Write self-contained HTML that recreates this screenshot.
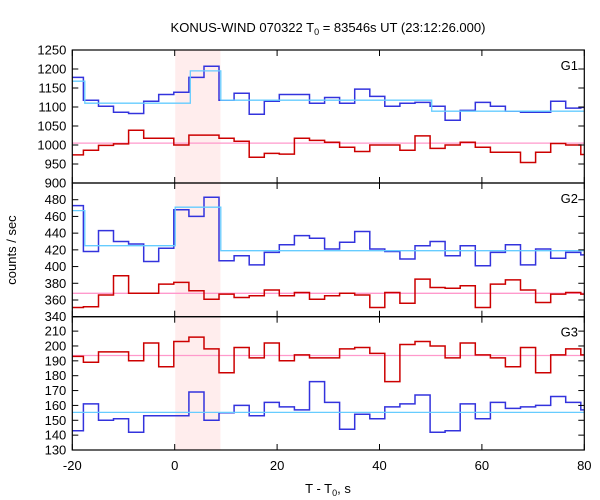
<!DOCTYPE html>
<html><head><meta charset="utf-8"><style>
html,body{margin:0;padding:0;background:#fff}
svg{display:block;font-family:"Liberation Sans",sans-serif}
</style></head><body>
<svg id="c" width="600" height="500" viewBox="0 0 600 500"></svg>
<script>
// bin edges: first bin index -1, width in seconds
const binStart = -20.78; // start of bin -1 (seconds)
const binWidth = 2.944;
const g1Blue = [1178,1118,1102,1086,1083,1115,1133,1139,1178,1207,1118,1136,1081,1115,1133,1133,1110,1125,1110,1147,1128,1102,1110,1112,1102,1065,1091,1112,1102,1089,1086,1086,1115,1097,1099];
const g1Red = [974,986,999,1003,1039,1018,1018,1000,1026,1026,1018,1010,968,978,976,1018,1012,1007,994,983,1000,1000,986,1024,991,1000,1007,994,981,981,954,981,1004,1000,975];
const g2Blue = [473,418,443,430,427,406,422,468,460,483,407,413,402,417,426,437,434,421,429,442,421,418,409,425,430,413,425,401,417,426,402,421,410,417,414];
const g2Red = [351,352,366,389,368,368,379,381,371,361,367,363,365,372,365,369,361,365,368,366,351,369,356,385,375,374,377,351,379,384,372,357,367,369,367];
const g3Blue = [143,161,150,151,142,153,153,153,169,150,155,160,153,162,159,157,176,162,144,154,151,159,161,167,142,143,161,151,162,158,159,160,166,162,157];
const g3Red = [193,189,196,196,190,202,186,203,206,198,182,199,192,202,190,194,192,192,198,199,195,176,201,203,200,192,202,194,192,186,199,182,194,198,194];
// fit model steps: [tStart, tEnd, value]
const g1FitT = [-20,-17.56,3.04,9.0,50.2,80];
const g1FitV = [1168,1110,1195,1118,1089];
const g2FitT = [-20,-17.56,0.1,9.0,80];
const g2FitV = [467,425,471,419];
const g3BgV = 155.3, g1BgV = 1005, g2BgV = 368, g3RedBg = 193.6;
const xTicks = [-20,0,20,40,60,80];
const g1Ticks = [900,950,1000,1050,1100,1150,1200,1250];
const g2Ticks = [340,360,380,400,420,440,460,480];
const g3Ticks = [130,140,150,160,170,180,190,200,210];
const burst = [0.1, 8.93];

const svg = document.getElementById('c');
const NS='http://www.w3.org/2000/svg';
const X0=72.3, X1=584.3;
const xs = t => X0 + (t+20)/100*(X1-X0);
function mk(tag, attrs, parent){const e=document.createElementNS(NS,tag);for(const k in attrs)e.setAttribute(k,attrs[k]);(parent||svg).appendChild(e);return e;}

const panels = [
 {name:'g1', top:50, bot:183, min:900, max:1250, ticks:g1Ticks, blue:g1Blue, red:g1Red, fitT:g1FitT, fitV:g1FitV, redBg:g1BgV},
 {name:'g2', top:183, bot:316.7, min:340, max:500, ticks:g2Ticks, blue:g2Blue, red:g2Red, fitT:g2FitT, fitV:g2FitV, redBg:g2BgV},
 {name:'g3', top:316.7, bot:450, min:130, max:219.7, ticks:g3Ticks, blue:g3Blue, red:g3Red, fitT:[-20,80], fitV:[g3BgV], redBg:g3RedBg}
];

// burst shading
const sh = mk('rect',{x:xs(burst[0]),y:50,width:xs(burst[1])-xs(burst[0]),height:400,fill:'#ffeded'});



const clip = mk('clipPath',{id:'pc'}); mk('rect',{x:X0,y:50,width:X1-X0,height:400},clip);

function stepPath(vals, ys){
  let d='';
  for(let i=0;i<vals.length;i++){
    const t0=binStart+i*binWidth, t1=t0+binWidth;
    const y=ys(vals[i]).toFixed(1);
    d += (i===0?'M':'L')+xs(t0).toFixed(1)+','+y+'L'+xs(t1).toFixed(1)+','+y;
  }
  return d;
}
panels.forEach((p,pi)=>{
  const ys = v => p.bot - (v-p.min)/(p.max-p.min)*(p.bot-p.top);
  const g = mk('g',{'clip-path':'url(#pc)'});
  
  
  // bg line red
  const rl = mk('line',{x1:X0,x2:X1,y1:ys(p.redBg),y2:ys(p.redBg),stroke:'#ff99cc','stroke-width':1.3},g);
  
  
  // fit cyan
  let d='';
  for(let i=0;i<p.fitV.length;i++){
    const y=ys(p.fitV[i]).toFixed(1);
    d+=(i===0?'M':'L')+xs(p.fitT[i]).toFixed(1)+','+y+'L'+xs(p.fitT[i+1]).toFixed(1)+','+y;
  }
  const red = mk('path',{d:stepPath(p.red,ys),fill:'none',stroke:'#cc0000','stroke-width':1.5},g);
  
  
  const blue = mk('path',{d:stepPath(p.blue,ys),fill:'none',stroke:'#3333dd','stroke-width':1.5},g);
  
  
  const fit = mk('path',{d:d,fill:'none',stroke:'#66ccff','stroke-width':1.3},g);
  
  
  // frame
  const fr = mk('rect',{x:X0,y:p.top,width:X1-X0,height:p.bot-p.top,fill:'none',stroke:'#000','stroke-width':1.2});
  
  
  // y ticks
  p.ticks.forEach(v=>{
    const y=ys(v);
    mk('line',{x1:X0,x2:X0+6,y1:y,y2:y,stroke:'#000'});
    mk('line',{x1:X1-6,x2:X1,y1:y,y2:y,stroke:'#000'});
    const t=mk('text',{x:X0-6,y:y+4.5,'text-anchor':'end','font-size':13},null);
    t.textContent=v;
    
    
  });
  xTicks.forEach(v=>{
    const x=xs(v);
    mk('line',{x1:x,x2:x,y1:p.top,y2:p.top+6,stroke:'#000'});
    mk('line',{x1:x,x2:x,y1:p.bot-6,y2:p.bot,stroke:'#000'});
  });
  const lb=mk('text',{x:578,y:p.top+20,'text-anchor':'end','font-size':13});
  lb.textContent='G'+(pi+1);
  
  
});
xTicks.forEach(v=>{
  const t=mk('text',{x:xs(v),y:470,'text-anchor':'middle','font-size':13});
  t.textContent=v;
  
  
});
</script>
<script>
(function(){
const svg=document.getElementById('c');const NS='http://www.w3.org/2000/svg';
function txt(html,attrs,name){const e=document.createElementNS(NS,'text');for(const k in attrs)e.setAttribute(k,attrs[k]);e.innerHTML=html;svg.appendChild(e);

}
txt('KONUS-WIND 070322 T<tspan font-size="9" dy="3">0</tspan><tspan dy="-3"> = 83546s UT (23:12:26.000)</tspan>',{x:328,y:32,'text-anchor':'middle','font-size':13},'chart-title');
txt('T - T<tspan font-size="9" dy="3">0</tspan><tspan dy="-3">, s</tspan>',{x:328,y:493,'text-anchor':'middle','font-size':13},'x-axis-title');
txt('counts / sec',{x:16,y:250,'text-anchor':'middle','font-size':13,transform:'rotate(-90 16 250)'},'y-axis-title');
})();
</script>
</body></html>
